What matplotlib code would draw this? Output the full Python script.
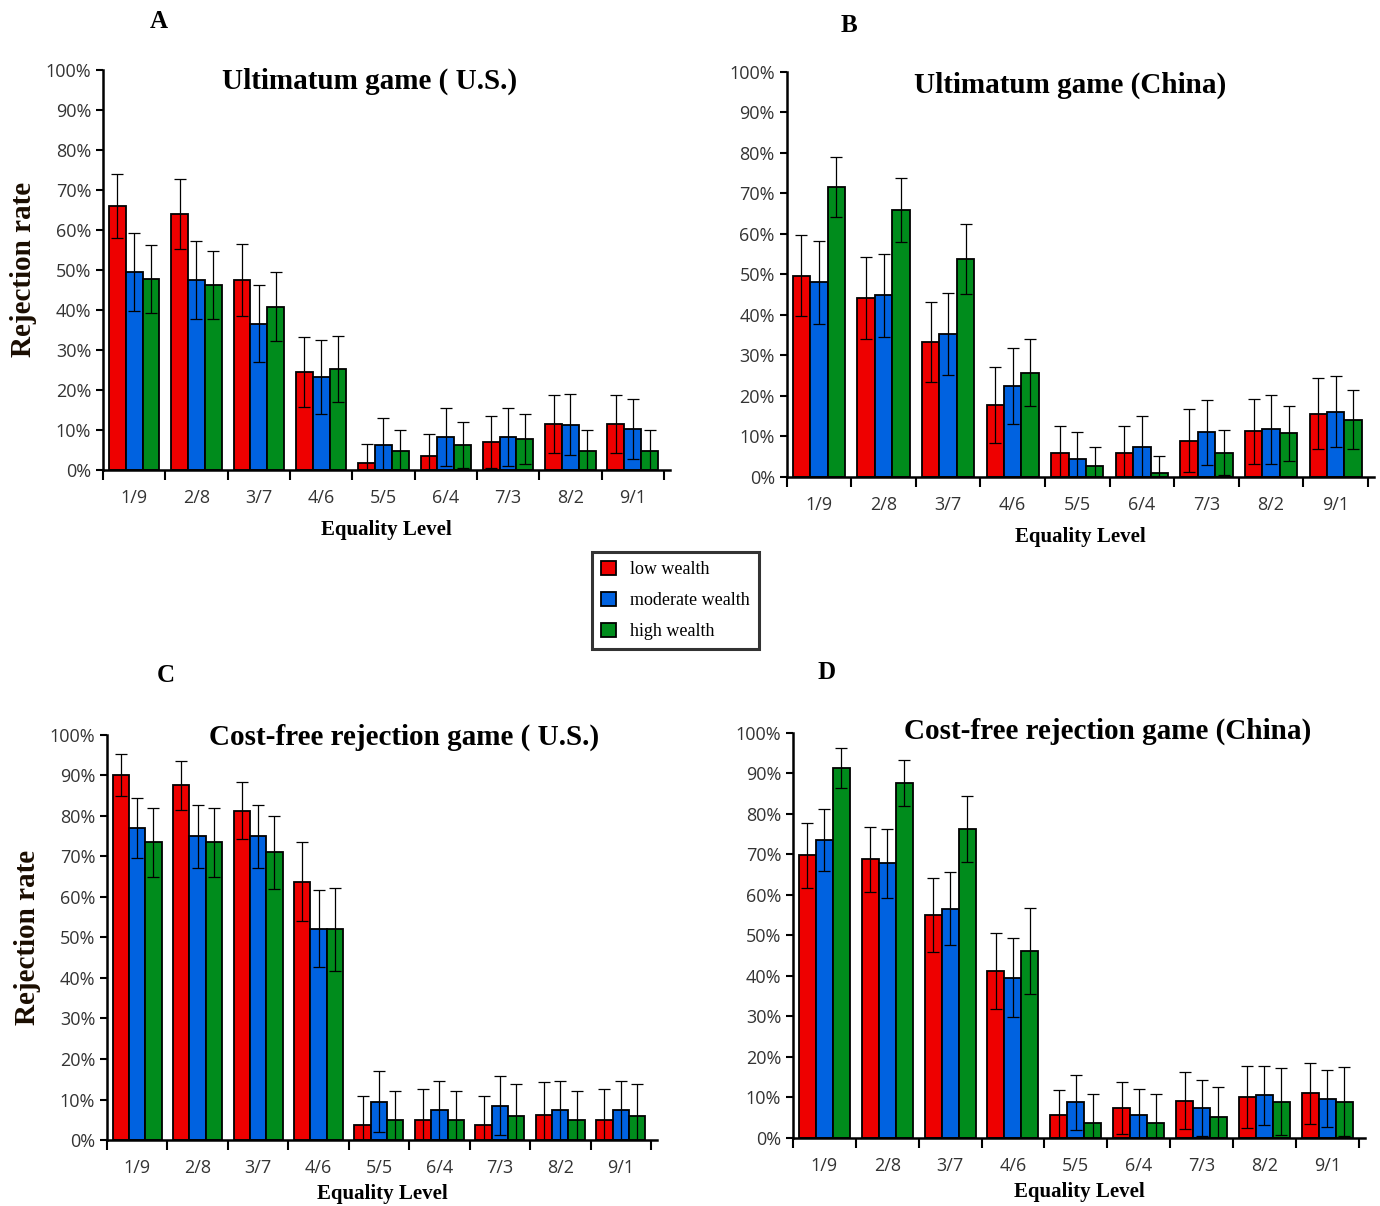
import numpy as np
import matplotlib
matplotlib.use("Agg")
import matplotlib.pyplot as plt
from matplotlib.ticker import PercentFormatter

levels = ["1/9", "2/8", "3/7", "4/6", "5/5", "6/4", "7/3", "8/2", "9/1"]
groups = ["low wealth", "moderate wealth", "high wealth"]
colors = ["#ee0000", "#0062e0", "#008c1c"]

# A: ultimatum game (U.S.)
us_ug_low = [66, 64, 47.5, 24.5, 1.8, 3.5, 7, 11.5, 11.5]
us_ug_mod = [49.5, 47.5, 36.5, 23.3, 6.2, 8.2, 8.2, 11.3, 10.3]
us_ug_high = [47.8, 46.3, 40.8, 25.3, 4.7, 6.2, 7.7, 4.7, 4.7]
us_ug_low_err = [8, 8.7, 9, 8.8, 4.8, 5.6, 6.4, 7.2, 7.2]
us_ug_mod_err = [9.7, 9.7, 9.6, 9.2, 6.7, 7.2, 7.2, 7.6, 7.5]
us_ug_high_err = [8.5, 8.5, 8.6, 8.2, 5.2, 5.8, 6.2, 5.2, 5.2]

# B: ultimatum game (China)
cn_ug_low = [49.7, 44.2, 33.3, 17.8, 5.8, 5.8, 9.0, 11.3, 15.6]
cn_ug_mod = [48.0, 44.8, 35.3, 22.5, 4.5, 7.5, 11.0, 11.8, 16.1]
cn_ug_high = [71.5, 66.0, 53.8, 25.7, 2.8, 1.0, 6.0, 10.8, 14.1]
cn_ug_low_err = [9.9, 10.2, 9.9, 9.4, 6.8, 6.8, 7.8, 8.0, 8.8]
cn_ug_mod_err = [10.2, 10.2, 10.2, 9.4, 6.5, 7.6, 8.0, 8.5, 8.8]
cn_ug_high_err = [7.4, 7.9, 8.6, 8.3, 4.6, 4.2, 5.5, 6.8, 7.3]

# C: cost-free rejection game (U.S.)
us_cf_low = [90, 87.5, 81.3, 63.8, 3.8, 5.0, 3.8, 6.3, 5.0]
us_cf_mod = [77, 75, 75, 52.2, 9.5, 7.3, 8.5, 7.3, 7.3]
us_cf_high = [73.5, 73.5, 71, 52, 5, 5, 6, 5, 6]
us_cf_low_err = [5.2, 6, 7, 9.7, 7, 7.6, 7, 8, 7.6]
us_cf_mod_err = [7.4, 7.8, 7.8, 9.6, 7.5, 7.3, 7.3, 7.3, 7.3]
us_cf_high_err = [8.5, 8.5, 9, 10.2, 7, 7, 7.8, 7, 7.8]

# D: cost-free rejection game (China)
cn_cf_low = [69.8, 68.8, 55.1, 41.3, 5.6, 7.4, 9.2, 10.1, 11.0]
cn_cf_mod = [73.6, 67.8, 56.6, 39.6, 8.8, 5.6, 7.4, 10.5, 9.7]
cn_cf_high = [91.3, 87.6, 76.3, 46.2, 3.6, 3.6, 5.2, 9.0, 9.0]
cn_cf_low_err = [8, 8, 9.1, 9.4, 6.2, 6.5, 7, 7.7, 7.6]
cn_cf_mod_err = [7.7, 8.5, 9, 9.7, 6.8, 6.5, 7, 7.2, 7.1]
cn_cf_high_err = [4.9, 5.6, 8.2, 10.6, 7.2, 7.2, 7.5, 8.3, 8.5]

serif = "Liberation Serif"
sans = "Open Sans"

fig = plt.figure(figsize=(13.8, 12.06), dpi=100)

# letter, title, axes rect, values, errors, y label?, letter pos, title pos, xlabel pad
panels = [
    ("A", "Ultimatum game ( U.S.)", [0.0746, 0.6103, 0.411, 0.332],
     [us_ug_low, us_ug_mod, us_ug_high], [us_ug_low_err, us_ug_mod_err, us_ug_high_err],
     True, (0.115, 0.982), (0.47, 0.932), 9),
    ("B", "Ultimatum game (China)", [0.570, 0.6045, 0.426, 0.336],
     [cn_ug_low, cn_ug_mod, cn_ug_high], [cn_ug_low_err, cn_ug_mod_err, cn_ug_high_err],
     False, (0.615, 0.979), (0.483, 0.928), 9),
    ("C", "Cost-free rejection game ( U.S.)", [0.0775, 0.0547, 0.3986, 0.336],
     [us_cf_low, us_cf_mod, us_cf_high], [us_cf_low_err, us_cf_mod_err, us_cf_high_err],
     True, (0.120, 0.440), (0.54, 0.955), 5),
    ("D", "Cost-free rejection game (China)", [0.5746, 0.0564, 0.4145, 0.336],
     [cn_cf_low, cn_cf_mod, cn_cf_high], [cn_cf_low_err, cn_cf_mod_err, cn_cf_high_err],
     False, (0.599, 0.442), (0.55, 0.965), 5),
]

x = np.arange(1, len(levels) + 1)
w = 0.27
handles = None
for letter, title, rect, vals, errs, ylab, lpos, tpos, xpad in panels:
    ax = fig.add_axes(rect)
    hs = []
    for i in range(3):
        b = ax.bar(x + (i - 1) * w, vals[i], w, color=colors[i], edgecolor="black", linewidth=1.3,
                   yerr=errs[i], error_kw=dict(ecolor="black", elinewidth=0.9, capsize=4, capthick=0.9),
                   label=groups[i])
        hs.append(b)
    handles = hs
    ax.set_ylim(0, 100)
    ax.set_xlim(0.5, 9.6)
    ax.set_yticks(np.arange(0, 101, 10))
    ax.yaxis.set_major_formatter(PercentFormatter(decimals=0))
    ax.set_xticks(np.arange(0.5, 9.6, 1))
    ax.set_xticklabels([])
    ax.set_xticks(x, minor=True)
    ax.set_xticklabels(levels, minor=True)
    ax.tick_params(axis="x", which="major", length=7, width=1.5, direction="out")
    ax.tick_params(axis="x", which="minor", length=0, pad=14)
    ax.tick_params(axis="y", length=5, width=1.5, direction="out")
    for lab in ax.get_xticklabels(minor=True) + ax.get_yticklabels():
        lab.set_fontfamily(sans)
        lab.set_fontsize(13)
        lab.set_color("#333333")
    for s in ["top", "right"]:
        ax.spines[s].set_visible(False)
    ax.spines["left"].set_linewidth(1.8)
    ax.spines["bottom"].set_linewidth(1.8)
    ax.set_xlabel("Equality Level", fontfamily=serif, fontweight="bold", fontsize=15, labelpad=xpad)
    if ylab:
        ax.set_ylabel("Rejection rate", fontfamily=serif, fontweight="bold", fontsize=21,
                      color="#1a0d00", labelpad=6)
    ax.set_title(title, fontfamily=serif, fontweight="bold", fontsize=21, x=tpos[0], y=tpos[1])
    fig.text(lpos[0], lpos[1], letter, fontfamily=serif, fontweight="bold", fontsize=18,
             ha="center", va="center")

leg = fig.legend(handles=handles, labels=groups,
                 loc="center", bbox_to_anchor=(0.4895, 0.502),
                 prop={"family": serif, "size": 13}, frameon=True, fancybox=False,
                 handlelength=0.8, handleheight=0.8, labelspacing=0.75, borderpad=0.5,
                 handletextpad=0.8, edgecolor="black")
leg.get_frame().set_linewidth(2.2)
for h in leg.legend_handles:
    h.set_edgecolor("black")

fig.savefig("out.png", dpi=100)
